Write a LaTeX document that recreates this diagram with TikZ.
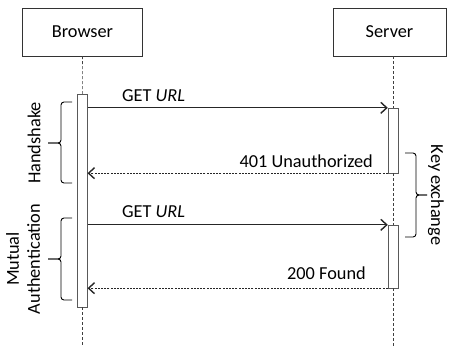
\documentclass[tikz,border=0pt]{standalone}
\usepackage{fontspec}
\setmainfont{Carlito}
\usetikzlibrary{arrows.meta}

\tikzset{
  actor/.style={draw=black!80, minimum height=48pt, inner sep=0pt},
  activ/.style={draw=black!65, fill=white, minimum width=10pt, inner sep=0pt},
  msg/.style={-{Straight Barb[length=6pt,width=11pt,line width=1.4pt]}, draw=black!85, line width=0.8pt},
  reply/.style={msg, dash pattern=on 2pt off 1.2pt, line width=0.6pt},
  life/.style={dash pattern=on 3pt off 2pt, draw=black!75, line width=0.6pt},
  bracket/.style={line width=0.9pt, rounded corners=3pt},
  lbl/.style={inner sep=0pt},
}

\begin{document}
\begin{tikzpicture}[x=1pt, y=-1pt, font=\fontsize{18.3}{21}\selectfont]
          \useasboundingbox (0,0) rectangle (452,346);

          \node[actor, minimum width=120pt] (browser) at (82.5, 32) {Browser};
          \node[actor, minimum width=113pt] (server)  at (389.5, 32) {Server};

          \node[activ, minimum height=213pt] (bact)  at (82.3, 200.5) {};
          \node[activ, minimum height=65pt]  (sact1) at (393, 140.5) {};
          \node[activ, minimum height=63pt]  (sact2) at (393, 256.5) {};

          \coordinate (bend) at (82.3, 346);
          \coordinate (send) at (393, 346);

          \draw[life] (browser.south) -- (bact.north);
          \draw[life] (bact.south) -- (bend);
          \draw[life] (sact1.north |- server.south) -- (sact1.north);
          \draw[life] (sact1.south) -- (sact2.north);
          \draw[life] (sact2.south) -- (send);

          \draw[msg]   (bact.east |- sact1.north) -- (sact1.north west);
          \draw[reply] (sact1.south west) -- (bact.east |- sact1.south);
          \draw[msg]   (bact.east |- sact2.north) -- (sact2.north west);
          \draw[reply] (sact2.south west) -- (bact.east |- sact2.south);

          \node[lbl, anchor=base west] (get1)  at (122, 101) {GET \textit{URL}};
          \node[lbl, anchor=base east] (unauth) at (373, 167) {401 Unauthorized};
          \node[lbl, anchor=base west] (get2)  at (122, 217) {GET \textit{URL}};
          \node[lbl, anchor=base east] (found) at (366, 279) {200 Found};

          \draw[bracket] (72, 102) -- (61, 102) -- (61, 143) -- (48, 143);
          \draw[bracket] (48, 143) -- (61, 143) -- (61, 183) -- (72, 183);
          \node[lbl, rotate=90] (hand) at (34, 143) {Handshake};

          \draw[bracket] (72, 218) -- (61, 218) -- (61, 259) -- (48, 259);
          \draw[bracket] (48, 259) -- (61, 259) -- (61, 300) -- (72, 300);
          \node[lbl, rotate=90, align=center] (mutual) at (23, 259) {Mutual\\Authentication};

          \draw[bracket] (405, 153) -- (416, 153) -- (416, 195) -- (427, 195);
          \draw[bracket] (427, 195) -- (416, 195) -- (416, 237) -- (405, 237);
          \node[lbl, rotate=-90] (keyx) at (436, 195) {Key exchange};
        \end{tikzpicture}
\end{document}
